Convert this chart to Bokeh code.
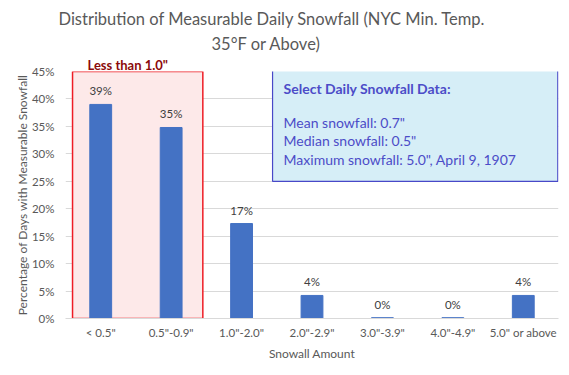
from bokeh.plotting import figure
from bokeh.models import Range1d, FixedTicker, Label, BoxAnnotation, Title
from bokeh.embed import file_html
from bokeh.resources import INLINE

categories = ['< 0.5"', '0.5"-0.9"', '1.0"-2.0"', '2.0"-2.9"', '3.0"-3.9"', '4.0"-4.9"', '5.0" or above']
values = [39.0, 34.8, 17.3, 4.2, 0.15, 0.15, 4.2]
labels = ["39%", "35%", "17%", "4%", "0%", "0%", "4%"]
y_ticks = [0, 5, 10, 15, 20, 25, 30, 35, 40, 45]
info_lines = ['Mean snowfall: 0.7"', 'Median snowfall: 0.5"', 'Maximum snowfall: 5.0", April 9, 1907']

FONT = "Lato"
xs = [i + 0.5 for i in range(len(categories))]

p = figure(width=569, height=375, output_backend="svg", toolbar_location=None,
           x_range=Range1d(0, len(categories)), y_range=Range1d(0, 45),
           min_border_left=65, min_border_right=11, min_border_top=71, min_border_bottom=57)
p.outline_line_color = None
p.background_fill_color = "white"

# titles (stacked above the frame; first added sits closest to the frame)
p.add_layout(Title(text='Less than 1.0"', align="left", offset=22, text_font=FONT,
                   text_font_style="bold", text_font_size="13px", text_color="#8B0A0A",
                   standoff=-2), "above")
p.add_layout(Title(text="35°F or Above)", align="left", offset=146, text_font=FONT,
                   text_font_style="normal", text_font_size="16.5px", text_color="#595959",
                   standoff=4), "above")
p.add_layout(Title(text="Distribution of Measurable Daily Snowfall (NYC Min. Temp.", align="left",
                   offset=-7, text_font=FONT, text_font_style="normal", text_font_size="16.5px",
                   text_color="#595959", standoff=1), "above")

# shaded region
p.add_layout(BoxAnnotation(left=xs[0] - 0.4, right=xs[1] + 0.45, bottom=0, top=45,
                           fill_color="#FDE9E9", fill_alpha=1.0, line_color="#EE1C25",
                           line_alpha=1.0, line_width=1.5, level="underlay"))

p.vbar(x=xs, top=values, width=0.31, color="#4472C4")

for xv, v, t in zip(xs, values, labels):
    p.add_layout(Label(x=xv, y=v, text=t, text_align="center", text_baseline="bottom",
                       y_offset=7, text_font=FONT, text_font_size="11.5px", text_color="#404040"))

# axes
p.xaxis.ticker = FixedTicker(ticks=xs)
p.xaxis.major_label_overrides = {xv: c for xv, c in zip(xs, categories)}
p.yaxis.ticker = FixedTicker(ticks=y_ticks)
p.yaxis.major_label_overrides = {t: f"{t}%" for t in y_ticks}
for ax in (p.xaxis, p.yaxis):
    ax.major_tick_line_color = None
    ax.minor_tick_line_color = None
    ax.major_tick_out = 0
    ax.major_tick_in = 0
    ax.minor_tick_out = 0
    ax.minor_tick_in = 0
    ax.major_label_text_font = FONT
    ax.major_label_text_font_size = "11.5px"
    ax.major_label_text_color = "#595959"
    ax.axis_label_text_font = FONT
    ax.axis_label_text_font_size = "12px"
    ax.axis_label_text_color = "#595959"
    ax.axis_label_text_font_style = "normal"
p.yaxis.axis_line_color = None
p.xaxis.axis_line_color = "#D9D9D9"
p.xaxis.major_label_standoff = 7
p.yaxis.major_label_standoff = 11
p.xaxis.axis_label = "Snowall Amount"
p.yaxis.axis_label = "Percentage of Days with Measurable Snowfall"
p.xaxis.axis_label_standoff = 4
p.yaxis.axis_label_standoff = -1
p.xgrid.grid_line_color = None
p.ygrid.grid_line_color = "#D9D9D9"
p.ygrid.ticker = FixedTicker(ticks=y_ticks)

# info box
p.add_layout(BoxAnnotation(left=2.94, right=6.99, bottom=25.0, top=45.2,
                           fill_color="#D6EEF7", fill_alpha=1.0, line_color="#4848C8",
                           line_alpha=1.0, line_width=1.2))
p.add_layout(Label(x=2.94, y=45.2, x_offset=11, y_offset=-18, text="Select Daily Snowfall Data:",
                   text_font=FONT, text_font_style="bold", text_font_size="14px",
                   text_color="#4C4CC8", text_baseline="middle"))
for i, line in enumerate(info_lines):
    p.add_layout(Label(x=2.94, y=45.2, x_offset=11, y_offset=-52 - 18.5 * i, text=line,
                       text_font=FONT, text_font_size="14px", text_color="#4C4CC8",
                       text_baseline="middle"))

open("out.html", "w").write(file_html(p, INLINE))
